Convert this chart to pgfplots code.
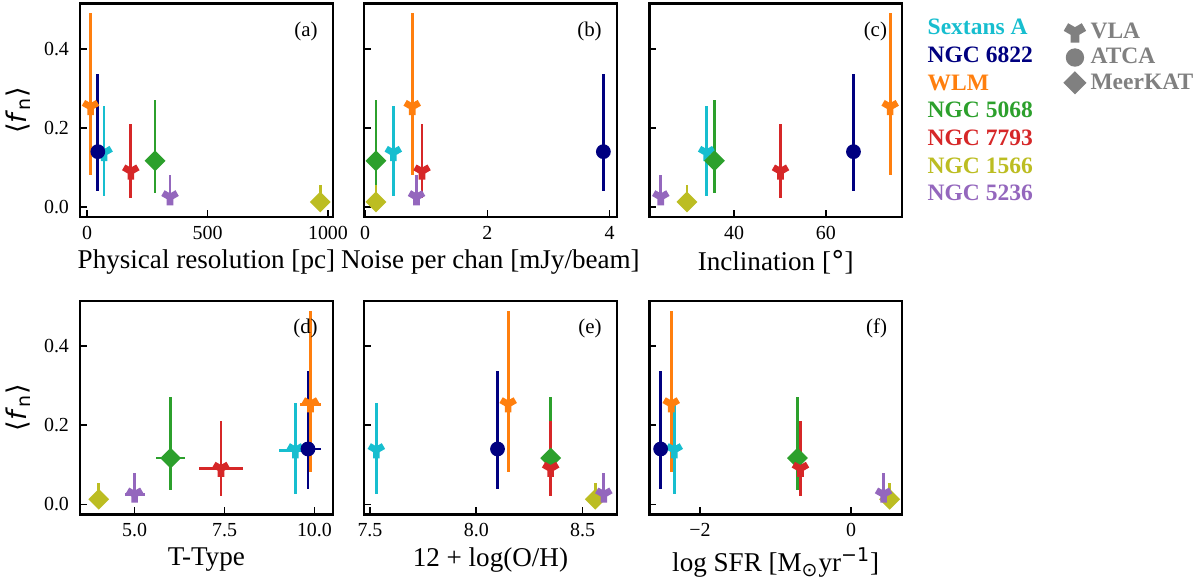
\documentclass[border=0pt]{standalone}
\usepackage{pgfplots}
\usepackage{pgfplotstable}
\pgfplotsset{compat=1.18}
\usepackage{fontspec}
\setmainfont{Liberation Serif}
\newfontfamily\dejavu{DejaVu Sans}

\definecolor{cSex}{HTML}{17BECF}
\definecolor{cNsix}{HTML}{000080}
\definecolor{cWLM}{HTML}{FF7F0E}
\definecolor{cNfive}{HTML}{2CA02C}
\definecolor{cNseven}{HTML}{D62728}
\definecolor{cNone}{HTML}{BCBD22}
\definecolor{cNtwo}{HTML}{9467BD}
\definecolor{cGray}{HTML}{808080}

\pgfdeclareplotmark{tridown}{%
  \pgfpathmoveto{\pgfqpoint{0pt}{0pt}}%
  \pgfpathlineto{\pgfqpoint{0pt}{-\pgfplotmarksize}}%
  \pgfpathmoveto{\pgfqpoint{0pt}{0pt}}%
  \pgfpathlineto{\pgfqpoint{-0.866\pgfplotmarksize}{0.5\pgfplotmarksize}}%
  \pgfpathmoveto{\pgfqpoint{0pt}{0pt}}%
  \pgfpathlineto{\pgfqpoint{0.866\pgfplotmarksize}{0.5\pgfplotmarksize}}%
  \pgfusepathqstroke}
\pgfdeclareplotmark{sqdiamond}{%
  \pgfpathmoveto{\pgfqpoint{0pt}{\pgfplotmarksize}}%
  \pgfpathlineto{\pgfqpoint{\pgfplotmarksize}{0pt}}%
  \pgfpathlineto{\pgfqpoint{0pt}{-\pgfplotmarksize}}%
  \pgfpathlineto{\pgfqpoint{-\pgfplotmarksize}{0pt}}%
  \pgfpathclose
  \pgfusepathqfill}
\pgfdeclareplotmark{fcircle}{%
  \pgfpathcircle{\pgfpointorigin}{\pgfplotmarksize}%
  \pgfusepathqfill}

% one small table per galaxy
\pgfplotstableread{
res noise incl tt ttx oh sfr f fp fm
70 0.46 34.0 9.47 0.45 7.53 -2.34 0.137 0.118 0.110
}\tSex
\pgfplotstableread{
res noise incl tt ttx oh sfr f fp fm
44 3.90 66.0 9.82 0.35 8.10 -2.52 0.140 0.196 0.100
}\tNsix
\pgfplotstableread{
res noise incl tt ttx oh sfr f fp fm
14 0.77 74.0 9.89 0.30 8.15 -2.38 0.253 0.236 0.171
}\tWLM
\pgfplotstableread{
res noise incl tt ttx oh sfr f fp fm
282 0.175 35.7 6.00 0.40 8.35 -0.71 0.117 0.154 0.081
}\tNfive
\pgfplotstableread{
res noise incl tt ttx oh sfr f fp fm
181 0.93 50.1 7.40 0.60 8.35 -0.67 0.090 0.121 0.068
}\tNseven
\pgfplotstableread{
res noise incl tt ttx oh sfr f fp fm
968 0.175 29.7 4.00 0.00 8.56 0.51 0.013 0.042 0.013
}\tNone
\pgfplotstableread{
res noise incl tt ttx oh sfr f fp fm
344 0.84 24.0 5.00 0.28 8.60 0.43 0.025 0.055 0.020
}\tNtwo

\pgfplotsset{
  vla/.style={only marks, mark=tridown, mark size=4.1bp, mark options={line width=3.3bp}},
  atca/.style={only marks, mark=fcircle, mark size=3.7bp},
  meer/.style={only marks, mark=sqdiamond, mark size=5.2bp},
  eby/.style={error bars/.cd, y dir=both, y explicit, error mark=none,
     error bar style={line width=1.35bp}},
  ebxy/.style={error bars/.cd, x dir=both, x explicit, y dir=both, y explicit, error mark=none,
     error bar style={line width=1.35bp}},
  base/.style={scale only axis, width=126.4bp, height=106.7bp, anchor=south west,
     ymin=-0.025, ymax=0.514, ytick={0,0.2,0.4},
     axis line style={line width=1.2bp}, tick style={line width=0.8bp, black},
     major tick length=3.4bp, tick align=inside, tick pos=left,
     tick label style={font=\fontsize{10}{12}\selectfont},
     label style={font=\fontsize{13.6}{16}\selectfont},
     yticklabel style={xshift=-2bp},
     xticklabel style={yshift=-1bp},
     xlabel style={yshift=1.5bp},
     clip=false},
  left/.style={ylabel={{\dejavu ⟨\textit{f}\textsubscript{n}⟩}}, yticklabels={0.0,0.2,0.4}},
  inner/.style={yticklabels={}},
}

\newcommand{\galaxies}[2]{%
  \addplot[vla, color=cSex, #2] table[x=#1, y=f, y error plus=fp, y error minus=fm, x error=ttx]{\tSex};
  \addplot[atca, color=cNsix, #2] table[x=#1, y=f, y error plus=fp, y error minus=fm, x error=ttx]{\tNsix};
  \addplot[vla, color=cWLM, #2] table[x=#1, y=f, y error plus=fp, y error minus=fm, x error=ttx]{\tWLM};
  \addplot[meer, color=cNfive, #2] table[x=#1, y=f, y error plus=fp, y error minus=fm, x error=ttx]{\tNfive};
  \addplot[vla, color=cNseven, #2] table[x=#1, y=f, y error plus=fp, y error minus=fm, x error=ttx]{\tNseven};
  \addplot[meer, color=cNone, #2] table[x=#1, y=f, y error plus=fp, y error minus=fm, x error=ttx]{\tNone};
  \addplot[vla, color=cNtwo, #2] table[x=#1, y=f, y error plus=fp, y error minus=fm, x error=ttx]{\tNtwo};
}
\newcommand{\plab}[1]{\node[anchor=east, font=\fontsize{10.5}{12}\selectfont] at (rel axis cs:0.968,0.87) {#1};}

\begin{document}
\begin{tikzpicture}
\useasboundingbox (0,0) rectangle (601bp,292.5bp);
% (a)
\begin{axis}[base, left, at={(40bp,184bp)}, xmin=-30, xmax=1020, xtick={0,500,1000},
  xticklabels={0,500,1000},
  xlabel={Physical resolution [pc]}]
\galaxies{res}{eby}
\plab{(a)}
\end{axis}
% (b)
\begin{axis}[base, inner, at={(182bp,184bp)}, xmin=-0.02, xmax=4.12, xtick={0,2,4},
  xticklabels={0,2,4},
  xlabel={Noise per chan [mJy/beam]}]
\galaxies{noise}{eby}
\plab{(b)}
\end{axis}
% (c)
\begin{axis}[base, inner, at={(324.65bp,184bp)}, xmin=21.5, xmax=76.6, xtick={40,60},
  xticklabels={40,60},
  xlabel={Inclination [{\dejavu °}]}]
\plab{(c)}
\galaxies{incl}{eby}
\end{axis}
% (d)
\begin{axis}[base, left, at={(40bp,35.35bp)}, xmin=3.48, xmax=10.51, xtick={5,7.5,10},
  xticklabels={5.0,7.5,10.0},
  xlabel={T-Type}]
\galaxies{tt}{ebxy}
\plab{(d)}
\end{axis}
% (e)
\begin{axis}[base, inner, at={(182bp,35.35bp)}, xmin=7.472, xmax=8.661, xtick={7.5,8,8.5},
  xticklabels={7.5,8.0,8.5},
  xlabel={12 + log(O/H)}]
\galaxies{oh}{eby}
\plab{(e)}
\end{axis}
% (f)
\begin{axis}[base, inner, at={(324.65bp,35.35bp)}, xmin=-2.67, xmax=0.675, xtick={-2,0},
  xticklabels={−2,0},
  xlabel={log SFR [M\textsubscript{{\dejavu ⊙}}yr\textsuperscript{{\dejavu −1}}]}]
\galaxies{sfr}{eby}
\plab{(f)}
\end{axis}
% telescope legend
\begin{axis}[at={(0,0)}, anchor=south west, scale only axis, width=601bp, height=292.5bp,
  hide axis, xmin=0, xmax=1, ymin=0, ymax=1,
  legend style={draw=none, fill=none, at={(0.879,0.975)}, anchor=north west,
    font=\bfseries\fontsize{11.8}{14}\selectfont, text=cGray, row sep=-0.6bp},
  legend cell align=left,
  legend image code/.code={\path[draw=none,fill=none] (-6bp,-6bp) rectangle (0bp,6bp); \draw[#1] plot coordinates {(0bp,0bp)};}]
\addlegendimage{only marks, mark=tridown, mark size=5.2bp, mark options={line width=4.4bp}, cGray}
\addlegendentry{VLA}
\addlegendimage{only marks, mark=fcircle, mark size=4.6bp, cGray}
\addlegendentry{ATCA}
\addlegendimage{only marks, mark=sqdiamond, mark size=5.8bp, cGray}
\addlegendentry{MeerKAT}
\end{axis}
% galaxy names
\begin{scope}[every node/.style={anchor=base west, inner sep=0pt, font=\bfseries\fontsize{11.8}{14}\selectfont}]
\node[text=cSex] at (463.65bp,275bp) {Sextans A};
\node[text=cNsix] at (463.65bp,261.17bp) {NGC 6822};
\node[text=cWLM] at (463.65bp,247.33bp) {WLM};
\node[text=cNfive] at (463.65bp,233.5bp) {NGC 5068};
\node[text=cNseven] at (463.65bp,219.67bp) {NGC 7793};
\node[text=cNone] at (463.65bp,205.83bp) {NGC 1566};
\node[text=cNtwo] at (463.65bp,192bp) {NGC 5236};
\end{scope}
\end{tikzpicture}
\end{document}
